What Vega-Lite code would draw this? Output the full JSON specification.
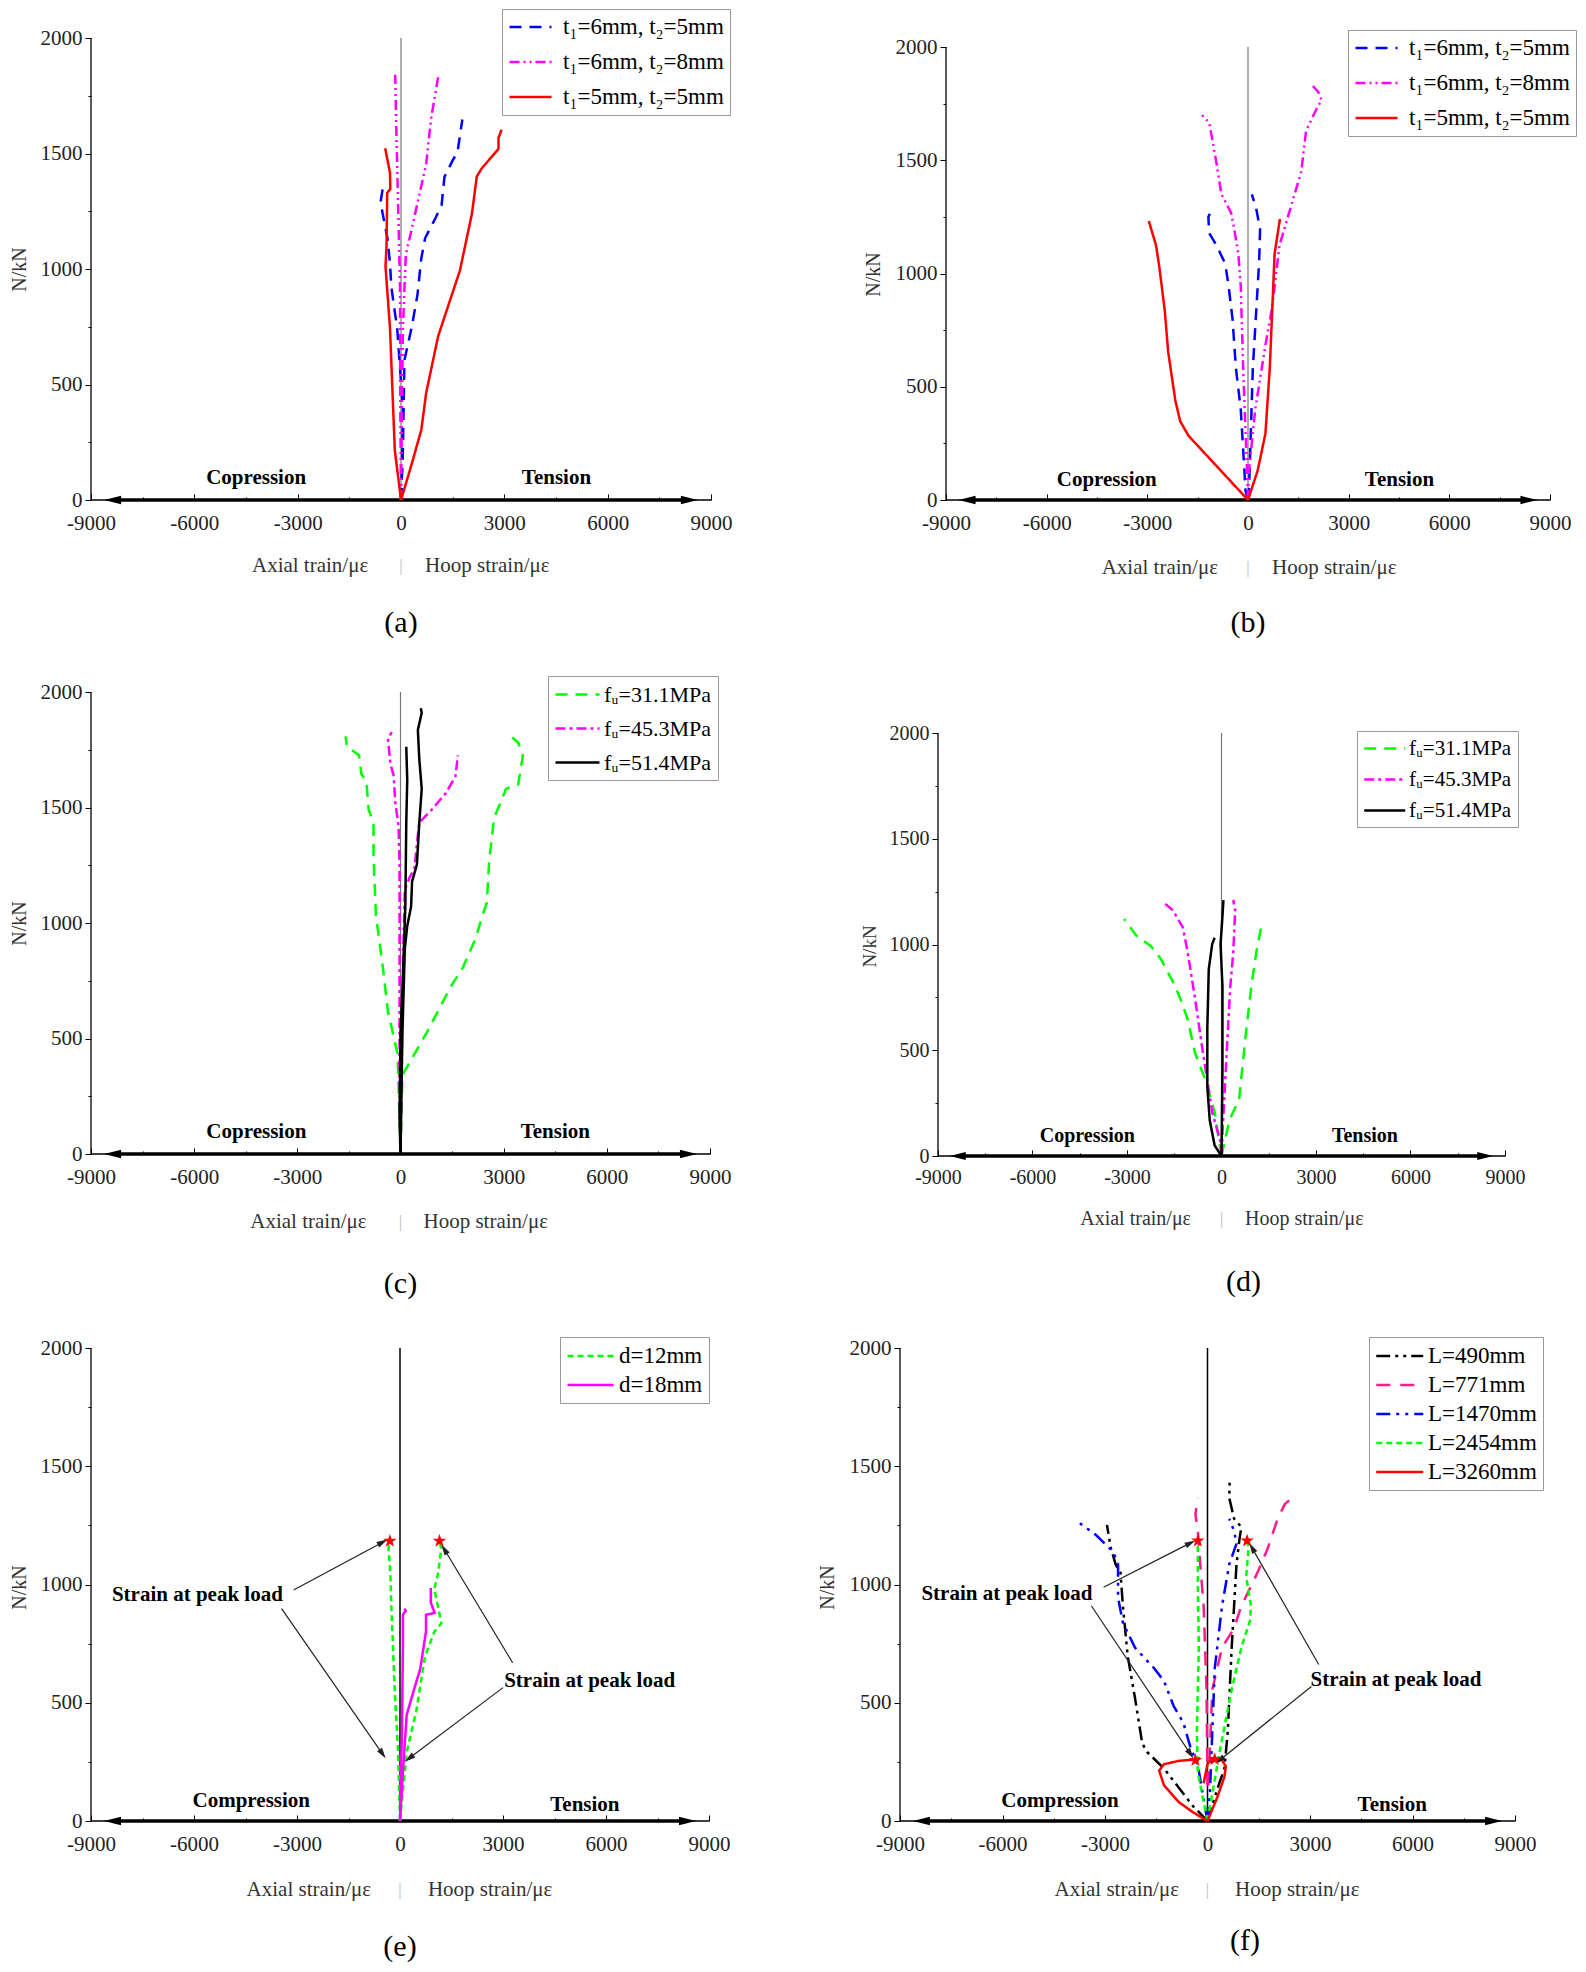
{
  "$schema": "https://vega.github.io/schema/vega-lite/v6.json",
  "background": "white",
  "padding": {"left": 9, "top": 8, "right": 0, "bottom": 0},
  "config": {
    "view": {"stroke": null},
    "font": "Liberation Serif",
    "axis": {"grid": false, "labelFont": "Liberation Serif", "labelFontSize": 21, "labelColor": "#222", "domainColor": "#000", "tickColor": "#000", "labelFlush": false, "labelOverlap": false, "titleFont": "Liberation Serif", "titleFontSize": 20, "titleFontWeight": "normal", "titleColor": "#333"},
    "legend": {"labelFont": "Liberation Serif", "labelColor": "#000", "labelLimit": 400, "title": null, "symbolType": "M-1,0L3,0", "symbolStrokeWidth": 2.5, "strokeColor": "#999", "fillColor": "#fff", "padding": 6}
  },
  "columns": 2,
  "bounds": "flush",
  "align": "each",
  "spacing": {"row": 192, "column": 189},
  "resolve": {"scale": {"x": "independent", "y": "independent", "color": "independent", "strokeDash": "independent"}},
  "concat": [
    {
      "width": 620, "height": 462,
      "data": {"values": [{}]},
      "layer": [
        {"mark": {"type": "rule", "color": "#000", "strokeWidth": 1.3},
         "encoding": {
           "x": {"datum": -9000, "type": "quantitative", "scale": {"domain": [-9000, 9000], "nice": false},
                 "axis": {"values": [-9000,-7500,-6000,-4500,-3000,-1500,0,1500,3000,4500,6000,7500,9000], "labelExpr": "datum.value % 3000 == 0 ? '' + datum.value : ''", "tickSize": {"condition": {"test": "datum.value % 3000 != 0", "value": -3}, "value": -6}, "labelPadding": 18, "domain": false, "title": null}},
           "y": {"datum": 0, "type": "quantitative", "scale": {"domain": [0, 2000], "nice": false},
                 "axis": {"values": [0,250,500,750,1000,1250,1500,1750,2000], "labelExpr": "datum.value % 500 == 0 ? '' + datum.value : ''", "tickSize": {"condition": {"test": "datum.value % 500 != 0", "value": 3}, "value": 6}, "labelPadding": 3, "domain": false, "title": "N/kN", "titleX": -72, "titleY": 231, "titleAngle": -90, "titleAlign": "center", "titleBaseline": "middle"}},
           "y2": {"datum": 2000}}},
        {"mark": {"type": "rule", "color": "#000", "strokeWidth": 1.3},
         "encoding": {"x": {"datum": -9000}, "x2": {"datum": 9000}, "y": {"datum": 0}}},
        {"mark": {"type": "rule", "color": "#777", "strokeWidth": 1.2},
         "encoding": {"x": {"datum": 0}, "y": {"datum": 0}, "y2": {"datum": 2000}}},
        {"mark": {"type": "rule", "color": "#000", "strokeWidth": 3.5},
         "encoding": {"x": {"datum": -8373}, "x2": {"datum": 8373}, "y": {"datum": 0}}},
        {"mark": {"type": "point", "shape": "M-1,0L1,-0.5L1,0.5Z", "filled": true, "size": 289, "color": "#000", "opacity": 1},
         "encoding": {"x": {"datum": -8373}, "y": {"datum": 0}}},
        {"mark": {"type": "point", "shape": "M1,0L-1,-0.5L-1,0.5Z", "filled": true, "size": 289, "color": "#000", "opacity": 1},
         "encoding": {"x": {"datum": 8373}, "y": {"datum": 0}}},
        {"data": {"values": [
          {"s": "t₁=6mm, t₂=5mm", "b": "H", "x": 0, "y": 0},
          {"s": "t₁=6mm, t₂=5mm", "b": "H", "x": 56, "y": 216},
          {"s": "t₁=6mm, t₂=5mm", "b": "H", "x": 98, "y": 604},
          {"s": "t₁=6mm, t₂=5mm", "b": "H", "x": 308, "y": 746},
          {"s": "t₁=6mm, t₂=5mm", "b": "H", "x": 477, "y": 887},
          {"s": "t₁=6mm, t₂=5mm", "b": "H", "x": 589, "y": 1046},
          {"s": "t₁=6mm, t₂=5mm", "b": "H", "x": 701, "y": 1134},
          {"s": "t₁=6mm, t₂=5mm", "b": "H", "x": 1009, "y": 1223},
          {"s": "t₁=6mm, t₂=5mm", "b": "H", "x": 1178, "y": 1276},
          {"s": "t₁=6mm, t₂=5mm", "b": "H", "x": 1262, "y": 1399},
          {"s": "t₁=6mm, t₂=5mm", "b": "H", "x": 1500, "y": 1470},
          {"s": "t₁=6mm, t₂=5mm", "b": "H", "x": 1640, "y": 1506},
          {"s": "t₁=6mm, t₂=5mm", "b": "H", "x": 1781, "y": 1647},
          {"s": "t₁=6mm, t₂=5mm", "b": "A", "x": 0, "y": 0},
          {"s": "t₁=6mm, t₂=5mm", "b": "A", "x": 28, "y": 127},
          {"s": "t₁=6mm, t₂=5mm", "b": "A", "x": 56, "y": 392},
          {"s": "t₁=6mm, t₂=5mm", "b": "A", "x": -28, "y": 569},
          {"s": "t₁=6mm, t₂=5mm", "b": "A", "x": -112, "y": 746},
          {"s": "t₁=6mm, t₂=5mm", "b": "A", "x": -182, "y": 816},
          {"s": "t₁=6mm, t₂=5mm", "b": "A", "x": -280, "y": 922},
          {"s": "t₁=6mm, t₂=5mm", "b": "A", "x": -322, "y": 1028},
          {"s": "t₁=6mm, t₂=5mm", "b": "A", "x": -393, "y": 1134},
          {"s": "t₁=6mm, t₂=5mm", "b": "A", "x": -463, "y": 1187},
          {"s": "t₁=6mm, t₂=5mm", "b": "A", "x": -533, "y": 1240},
          {"s": "t₁=6mm, t₂=5mm", "b": "A", "x": -589, "y": 1293},
          {"s": "t₁=6mm, t₂=5mm", "b": "A", "x": -533, "y": 1346},
          {"s": "t₁=6mm, t₂=5mm", "b": "A", "x": -575, "y": 1364},
          {"s": "t₁=6mm, t₂=8mm", "b": "H", "x": 0, "y": 0},
          {"s": "t₁=6mm, t₂=8mm", "b": "H", "x": 28, "y": 392},
          {"s": "t₁=6mm, t₂=8mm", "b": "H", "x": 56, "y": 746},
          {"s": "t₁=6mm, t₂=8mm", "b": "H", "x": 140, "y": 1064},
          {"s": "t₁=6mm, t₂=8mm", "b": "H", "x": 308, "y": 1170},
          {"s": "t₁=6mm, t₂=8mm", "b": "H", "x": 500, "y": 1300},
          {"s": "t₁=6mm, t₂=8mm", "b": "H", "x": 729, "y": 1452},
          {"s": "t₁=6mm, t₂=8mm", "b": "H", "x": 869, "y": 1647},
          {"s": "t₁=6mm, t₂=8mm", "b": "H", "x": 1080, "y": 1832},
          {"s": "t₁=6mm, t₂=8mm", "b": "A", "x": 0, "y": 0},
          {"s": "t₁=6mm, t₂=8mm", "b": "A", "x": -20, "y": 400},
          {"s": "t₁=6mm, t₂=8mm", "b": "A", "x": -28, "y": 922},
          {"s": "t₁=6mm, t₂=8mm", "b": "A", "x": -84, "y": 1276},
          {"s": "t₁=6mm, t₂=8mm", "b": "A", "x": -140, "y": 1629},
          {"s": "t₁=6mm, t₂=8mm", "b": "A", "x": -168, "y": 1841},
          {"s": "t₁=5mm, t₂=5mm", "b": "H", "x": 0, "y": 0},
          {"s": "t₁=5mm, t₂=5mm", "b": "H", "x": 300, "y": 150},
          {"s": "t₁=5mm, t₂=5mm", "b": "H", "x": 590, "y": 304},
          {"s": "t₁=5mm, t₂=5mm", "b": "H", "x": 730, "y": 463},
          {"s": "t₁=5mm, t₂=5mm", "b": "H", "x": 1080, "y": 710},
          {"s": "t₁=5mm, t₂=5mm", "b": "H", "x": 1710, "y": 993},
          {"s": "t₁=5mm, t₂=5mm", "b": "H", "x": 2060, "y": 1240},
          {"s": "t₁=5mm, t₂=5mm", "b": "H", "x": 2200, "y": 1400},
          {"s": "t₁=5mm, t₂=5mm", "b": "H", "x": 2340, "y": 1435},
          {"s": "t₁=5mm, t₂=5mm", "b": "H", "x": 2830, "y": 1520},
          {"s": "t₁=5mm, t₂=5mm", "b": "H", "x": 2830, "y": 1567},
          {"s": "t₁=5mm, t₂=5mm", "b": "H", "x": 2920, "y": 1603},
          {"s": "t₁=5mm, t₂=5mm", "b": "A", "x": 0, "y": 0},
          {"s": "t₁=5mm, t₂=5mm", "b": "A", "x": -180, "y": 216},
          {"s": "t₁=5mm, t₂=5mm", "b": "A", "x": -320, "y": 746},
          {"s": "t₁=5mm, t₂=5mm", "b": "A", "x": -450, "y": 1011},
          {"s": "t₁=5mm, t₂=5mm", "b": "A", "x": -420, "y": 1100},
          {"s": "t₁=5mm, t₂=5mm", "b": "A", "x": -400, "y": 1330},
          {"s": "t₁=5mm, t₂=5mm", "b": "A", "x": -310, "y": 1346},
          {"s": "t₁=5mm, t₂=5mm", "b": "A", "x": -320, "y": 1417},
          {"s": "t₁=5mm, t₂=5mm", "b": "A", "x": -460, "y": 1523}
         ]},
         "mark": {"type": "line", "strokeWidth": 2.5},
         "encoding": {
           "x": {"field": "x", "type": "quantitative"},
           "y": {"field": "y", "type": "quantitative"},
           "color": {"field": "s", "type": "nominal", "scale": {"domain": ["t₁=6mm, t₂=5mm", "t₁=6mm, t₂=8mm", "t₁=5mm, t₂=5mm"], "range": ["#0000ff", "#ff00ff", "#ff0000"]},
                     "legend": {"orient": "none", "legendX": 411, "legendY": -29, "symbolSize": 441, "labelOffset": 31, "rowPadding": 11, "labelFontSize": 23}},
           "strokeDash": {"field": "s", "type": "nominal", "scale": {"domain": ["t₁=6mm, t₂=5mm", "t₁=6mm, t₂=8mm", "t₁=5mm, t₂=5mm"], "range": [[12, 8], [10, 4, 2, 4, 2, 4], [1, 0]]},
                     "legend": {"orient": "none", "legendX": 411, "legendY": -29, "symbolSize": 441, "labelOffset": 31, "rowPadding": 11, "labelFontSize": 23}},
           "detail": {"field": "b"},
           "order": {"value": null}}},
        {"data": {"values": [{"t": "Copression", "x": -4206, "y": 95}, {"t": "Tension", "x": 4514, "y": 95}]},
         "mark": {"type": "text", "fontWeight": "bold", "fontSize": 21, "color": "#000", "baseline": "middle"},
         "encoding": {"x": {"field": "x", "type": "quantitative"}, "y": {"field": "y", "type": "quantitative"}, "text": {"field": "t"}}},
        {"mark": {"type": "text", "align": "right", "baseline": "middle", "dy": 66, "fontSize": 21, "color": "#333"},
         "encoding": {"x": {"datum": -950}, "y": {"datum": 0}, "text": {"value": "Axial train/με"}}},
        {"mark": {"type": "text", "baseline": "middle", "dy": 66, "fontSize": 17, "color": "#bbb"},
         "encoding": {"x": {"datum": 0}, "y": {"datum": 0}, "text": {"value": "|"}}},
        {"mark": {"type": "text", "align": "left", "baseline": "middle", "dy": 66, "fontSize": 21, "color": "#333"},
         "encoding": {"x": {"datum": 700}, "y": {"datum": 0}, "text": {"value": "Hoop strain/με"}}},
        {"mark": {"type": "text", "baseline": "middle", "dy": 123, "fontSize": 30, "color": "#000"},
         "encoding": {"x": {"datum": 0}, "y": {"datum": 0}, "text": {"value": "(a)"}}}
      ]
    },
    {
      "width": 650, "height": 462,
      "data": {"values": [{}]},
      "layer": [
        {"mark": {"type": "rule", "color": "#000", "strokeWidth": 1.3},
         "encoding": {
           "x": {"datum": -9000, "type": "quantitative", "scale": {"domain": [-10371, 9000], "nice": false},
                 "axis": {"values": [-9000,-7500,-6000,-4500,-3000,-1500,0,1500,3000,4500,6000,7500,9000], "labelExpr": "datum.value % 3000 == 0 ? '' + datum.value : ''", "tickSize": {"condition": {"test": "datum.value % 3000 != 0", "value": -3}, "value": -6}, "labelPadding": 18, "domain": false, "title": null}},
           "y": {"datum": 0, "type": "quantitative", "scale": {"domain": [0, 2040], "nice": false},
                 "axis": {"offset": -46, "values": [0,250,500,750,1000,1250,1500,1750,2000], "labelExpr": "datum.value % 500 == 0 ? '' + datum.value : ''", "tickSize": {"condition": {"test": "datum.value % 500 != 0", "value": 3}, "value": 6}, "labelPadding": 3, "domain": false, "title": "N/kN", "titleX": -73, "titleY": 236, "titleAngle": -90, "titleAlign": "center", "titleBaseline": "middle"}},
           "y2": {"datum": 2000}}},
        {"mark": {"type": "rule", "color": "#000", "strokeWidth": 1.3},
         "encoding": {"x": {"datum": -9000}, "x2": {"datum": 9000}, "y": {"datum": 0}}},
        {"mark": {"type": "rule", "color": "#777", "strokeWidth": 1.2},
         "encoding": {"x": {"datum": 0}, "y": {"datum": 0}, "y2": {"datum": 2000}}},
        {"mark": {"type": "rule", "color": "#000", "strokeWidth": 3.5},
         "encoding": {"x": {"datum": -8373}, "x2": {"datum": 8373}, "y": {"datum": 0}}},
        {"mark": {"type": "point", "shape": "M-1,0L1,-0.5L1,0.5Z", "filled": true, "size": 289, "color": "#000", "opacity": 1},
         "encoding": {"x": {"datum": -8373}, "y": {"datum": 0}}},
        {"mark": {"type": "point", "shape": "M1,0L-1,-0.5L-1,0.5Z", "filled": true, "size": 289, "color": "#000", "opacity": 1},
         "encoding": {"x": {"datum": 8373}, "y": {"datum": 0}}},
        {"data": {"values": [
          {"s": "t₁=6mm, t₂=5mm", "b": "A", "x": 0, "y": 0},
          {"s": "t₁=6mm, t₂=5mm", "b": "A", "x": -72, "y": 40},
          {"s": "t₁=6mm, t₂=5mm", "b": "A", "x": -216, "y": 401},
          {"s": "t₁=6mm, t₂=5mm", "b": "A", "x": -360, "y": 582},
          {"s": "t₁=6mm, t₂=5mm", "b": "A", "x": -461, "y": 799},
          {"s": "t₁=6mm, t₂=5mm", "b": "A", "x": -577, "y": 943},
          {"s": "t₁=6mm, t₂=5mm", "b": "A", "x": -678, "y": 1043},
          {"s": "t₁=6mm, t₂=5mm", "b": "A", "x": -937, "y": 1124},
          {"s": "t₁=6mm, t₂=5mm", "b": "A", "x": -1154, "y": 1178},
          {"s": "t₁=6mm, t₂=5mm", "b": "A", "x": -1182, "y": 1250},
          {"s": "t₁=6mm, t₂=5mm", "b": "A", "x": -1038, "y": 1296},
          {"s": "t₁=6mm, t₂=5mm", "b": "H", "x": 0, "y": 0},
          {"s": "t₁=6mm, t₂=5mm", "b": "H", "x": 29, "y": 40},
          {"s": "t₁=6mm, t₂=5mm", "b": "H", "x": 144, "y": 582},
          {"s": "t₁=6mm, t₂=5mm", "b": "H", "x": 245, "y": 835},
          {"s": "t₁=6mm, t₂=5mm", "b": "H", "x": 332, "y": 1052},
          {"s": "t₁=6mm, t₂=5mm", "b": "H", "x": 360, "y": 1196},
          {"s": "t₁=6mm, t₂=5mm", "b": "H", "x": 245, "y": 1287},
          {"s": "t₁=6mm, t₂=5mm", "b": "H", "x": 115, "y": 1350},
          {"s": "t₁=6mm, t₂=8mm", "b": "A", "x": 0, "y": 0},
          {"s": "t₁=6mm, t₂=8mm", "b": "A", "x": -29, "y": 130},
          {"s": "t₁=6mm, t₂=8mm", "b": "A", "x": -144, "y": 582},
          {"s": "t₁=6mm, t₂=8mm", "b": "A", "x": -216, "y": 943},
          {"s": "t₁=6mm, t₂=8mm", "b": "A", "x": -288, "y": 1088},
          {"s": "t₁=6mm, t₂=8mm", "b": "A", "x": -432, "y": 1214},
          {"s": "t₁=6mm, t₂=8mm", "b": "A", "x": -505, "y": 1269},
          {"s": "t₁=6mm, t₂=8mm", "b": "A", "x": -793, "y": 1350},
          {"s": "t₁=6mm, t₂=8mm", "b": "A", "x": -937, "y": 1485},
          {"s": "t₁=6mm, t₂=8mm", "b": "A", "x": -1154, "y": 1666},
          {"s": "t₁=6mm, t₂=8mm", "b": "A", "x": -1370, "y": 1699},
          {"s": "t₁=6mm, t₂=8mm", "b": "H", "x": 0, "y": 0},
          {"s": "t₁=6mm, t₂=8mm", "b": "H", "x": 29, "y": 130},
          {"s": "t₁=6mm, t₂=8mm", "b": "H", "x": 216, "y": 401},
          {"s": "t₁=6mm, t₂=8mm", "b": "H", "x": 505, "y": 672},
          {"s": "t₁=6mm, t₂=8mm", "b": "H", "x": 721, "y": 853},
          {"s": "t₁=6mm, t₂=8mm", "b": "H", "x": 937, "y": 1124},
          {"s": "t₁=6mm, t₂=8mm", "b": "H", "x": 1370, "y": 1341},
          {"s": "t₁=6mm, t₂=8mm", "b": "H", "x": 1586, "y": 1449},
          {"s": "t₁=6mm, t₂=8mm", "b": "H", "x": 1730, "y": 1630},
          {"s": "t₁=6mm, t₂=8mm", "b": "H", "x": 2019, "y": 1720},
          {"s": "t₁=6mm, t₂=8mm", "b": "H", "x": 2192, "y": 1766},
          {"s": "t₁=6mm, t₂=8mm", "b": "H", "x": 2091, "y": 1802},
          {"s": "t₁=6mm, t₂=8mm", "b": "H", "x": 1875, "y": 1838},
          {"s": "t₁=5mm, t₂=5mm", "b": "A", "x": 0, "y": 0},
          {"s": "t₁=5mm, t₂=5mm", "b": "A", "x": -1774, "y": 284},
          {"s": "t₁=5mm, t₂=5mm", "b": "A", "x": -2019, "y": 347},
          {"s": "t₁=5mm, t₂=5mm", "b": "A", "x": -2163, "y": 437},
          {"s": "t₁=5mm, t₂=5mm", "b": "A", "x": -2379, "y": 654},
          {"s": "t₁=5mm, t₂=5mm", "b": "A", "x": -2480, "y": 835},
          {"s": "t₁=5mm, t₂=5mm", "b": "A", "x": -2639, "y": 1025},
          {"s": "t₁=5mm, t₂=5mm", "b": "A", "x": -2740, "y": 1124},
          {"s": "t₁=5mm, t₂=5mm", "b": "A", "x": -2956, "y": 1232},
          {"s": "t₁=5mm, t₂=5mm", "b": "H", "x": 0, "y": 0},
          {"s": "t₁=5mm, t₂=5mm", "b": "H", "x": 288, "y": 130},
          {"s": "t₁=5mm, t₂=5mm", "b": "H", "x": 519, "y": 293},
          {"s": "t₁=5mm, t₂=5mm", "b": "H", "x": 649, "y": 582},
          {"s": "t₁=5mm, t₂=5mm", "b": "H", "x": 721, "y": 835},
          {"s": "t₁=5mm, t₂=5mm", "b": "H", "x": 793, "y": 1088},
          {"s": "t₁=5mm, t₂=5mm", "b": "H", "x": 952, "y": 1241}
         ]},
         "mark": {"type": "line", "strokeWidth": 2.5},
         "encoding": {
           "x": {"field": "x", "type": "quantitative"},
           "y": {"field": "y", "type": "quantitative"},
           "color": {"field": "s", "type": "nominal", "scale": {"domain": ["t₁=6mm, t₂=5mm", "t₁=6mm, t₂=8mm", "t₁=5mm, t₂=5mm"], "range": ["#0000ff", "#ff00ff", "#ff0000"]},
                     "legend": {"orient": "none", "legendX": 448, "legendY": -8, "symbolSize": 441, "labelOffset": 31, "rowPadding": 11, "labelFontSize": 23}},
           "strokeDash": {"field": "s", "type": "nominal", "scale": {"domain": ["t₁=6mm, t₂=5mm", "t₁=6mm, t₂=8mm", "t₁=5mm, t₂=5mm"], "range": [[12, 8], [10, 4, 2, 4, 2, 4], [1, 0]]},
                     "legend": {"orient": "none", "legendX": 448, "legendY": -8, "symbolSize": 441, "labelOffset": 31, "rowPadding": 11, "labelFontSize": 23}},
           "detail": {"field": "b"},
           "order": {"value": null}}},
        {"data": {"values": [{"t": "Copression", "x": -4211, "y": 90}, {"t": "Tension", "x": 4513, "y": 90}]},
         "mark": {"type": "text", "fontWeight": "bold", "fontSize": 21, "color": "#000", "baseline": "middle"},
         "encoding": {"x": {"field": "x", "type": "quantitative"}, "y": {"field": "y", "type": "quantitative"}, "text": {"field": "t"}}},
        {"mark": {"type": "text", "align": "right", "baseline": "middle", "dy": 68, "fontSize": 21, "color": "#333"},
         "encoding": {"x": {"datum": -894}, "y": {"datum": 0}, "text": {"value": "Axial train/με"}}},
        {"mark": {"type": "text", "baseline": "middle", "dy": 68, "fontSize": 17, "color": "#bbb"},
         "encoding": {"x": {"datum": 0}, "y": {"datum": 0}, "text": {"value": "|"}}},
        {"mark": {"type": "text", "align": "left", "baseline": "middle", "dy": 68, "fontSize": 21, "color": "#333"},
         "encoding": {"x": {"datum": 715}, "y": {"datum": 0}, "text": {"value": "Hoop strain/με"}}},
        {"mark": {"type": "text", "baseline": "middle", "dy": 123, "fontSize": 30, "color": "#000"},
         "encoding": {"x": {"datum": 0}, "y": {"datum": 0}, "text": {"value": "(b)"}}}
      ]
    },
    {
      "width": 619, "height": 462,
      "data": {"values": [{}]},
      "layer": [
        {"mark": {"type": "rule", "color": "#000", "strokeWidth": 1.3},
         "encoding": {
           "x": {"datum": -9000, "type": "quantitative", "scale": {"domain": [-9000, 9000], "nice": false},
                 "axis": {"values": [-9000,-7500,-6000,-4500,-3000,-1500,0,1500,3000,4500,6000,7500,9000], "labelExpr": "datum.value % 3000 == 0 ? '' + datum.value : ''", "tickSize": {"condition": {"test": "datum.value % 3000 != 0", "value": -3}, "value": -6}, "labelPadding": 18, "domain": false, "title": null}},
           "y": {"datum": 0, "type": "quantitative", "scale": {"domain": [0, 2000], "nice": false},
                 "axis": {"values": [0,250,500,750,1000,1250,1500,1750,2000], "labelExpr": "datum.value % 500 == 0 ? '' + datum.value : ''", "tickSize": {"condition": {"test": "datum.value % 500 != 0", "value": 3}, "value": 6}, "labelPadding": 3, "domain": false, "title": "N/kN", "titleX": -72, "titleY": 231, "titleAngle": -90, "titleAlign": "center", "titleBaseline": "middle"}},
           "y2": {"datum": 2000}}},
        {"mark": {"type": "rule", "color": "#000", "strokeWidth": 1.3},
         "encoding": {"x": {"datum": -9000}, "x2": {"datum": 9000}, "y": {"datum": 0}}},
        {"mark": {"type": "rule", "color": "#777", "strokeWidth": 1.2},
         "encoding": {"x": {"datum": 0}, "y": {"datum": 0}, "y2": {"datum": 2000}}},
        {"mark": {"type": "rule", "color": "#000", "strokeWidth": 3.5},
         "encoding": {"x": {"datum": -8373}, "x2": {"datum": 8373}, "y": {"datum": 0}}},
        {"mark": {"type": "point", "shape": "M-1,0L1,-0.5L1,0.5Z", "filled": true, "size": 289, "color": "#000", "opacity": 1},
         "encoding": {"x": {"datum": -8373}, "y": {"datum": 0}}},
        {"mark": {"type": "point", "shape": "M1,0L-1,-0.5L-1,0.5Z", "filled": true, "size": 289, "color": "#000", "opacity": 1},
         "encoding": {"x": {"datum": 8373}, "y": {"datum": 0}}},
        {"data": {"values": [
          {"s": "fᵤ=31.1MPa", "b": "H", "x": 0, "y": 0},
          {"s": "fᵤ=31.1MPa", "b": "H", "x": 56, "y": 342},
          {"s": "fᵤ=31.1MPa", "b": "H", "x": 337, "y": 415},
          {"s": "fᵤ=31.1MPa", "b": "H", "x": 757, "y": 524},
          {"s": "fᵤ=31.1MPa", "b": "H", "x": 1458, "y": 724},
          {"s": "fᵤ=31.1MPa", "b": "H", "x": 1809, "y": 806},
          {"s": "fᵤ=31.1MPa", "b": "H", "x": 2159, "y": 925},
          {"s": "fᵤ=31.1MPa", "b": "H", "x": 2510, "y": 1089},
          {"s": "fᵤ=31.1MPa", "b": "H", "x": 2580, "y": 1271},
          {"s": "fᵤ=31.1MPa", "b": "H", "x": 2720, "y": 1453},
          {"s": "fᵤ=31.1MPa", "b": "H", "x": 3071, "y": 1581},
          {"s": "fᵤ=31.1MPa", "b": "H", "x": 3421, "y": 1599},
          {"s": "fᵤ=31.1MPa", "b": "H", "x": 3561, "y": 1726},
          {"s": "fᵤ=31.1MPa", "b": "H", "x": 3421, "y": 1781},
          {"s": "fᵤ=31.1MPa", "b": "H", "x": 3210, "y": 1808},
          {"s": "fᵤ=31.1MPa", "b": "A", "x": 0, "y": 0},
          {"s": "fᵤ=31.1MPa", "b": "A", "x": -84, "y": 433},
          {"s": "fᵤ=31.1MPa", "b": "A", "x": -365, "y": 616},
          {"s": "fᵤ=31.1MPa", "b": "A", "x": -505, "y": 798},
          {"s": "fᵤ=31.1MPa", "b": "A", "x": -715, "y": 1034},
          {"s": "fᵤ=31.1MPa", "b": "A", "x": -785, "y": 1289},
          {"s": "fᵤ=31.1MPa", "b": "A", "x": -785, "y": 1435},
          {"s": "fᵤ=31.1MPa", "b": "A", "x": -925, "y": 1489},
          {"s": "fᵤ=31.1MPa", "b": "A", "x": -995, "y": 1617},
          {"s": "fᵤ=31.1MPa", "b": "A", "x": -1136, "y": 1644},
          {"s": "fᵤ=31.1MPa", "b": "A", "x": -1206, "y": 1726},
          {"s": "fᵤ=31.1MPa", "b": "A", "x": -1556, "y": 1763},
          {"s": "fᵤ=31.1MPa", "b": "A", "x": -1598, "y": 1808},
          {"s": "fᵤ=45.3MPa", "b": "H", "x": 0, "y": 0},
          {"s": "fᵤ=45.3MPa", "b": "H", "x": 28, "y": 342},
          {"s": "fᵤ=45.3MPa", "b": "H", "x": 84, "y": 889},
          {"s": "fᵤ=45.3MPa", "b": "H", "x": 126, "y": 1144},
          {"s": "fᵤ=45.3MPa", "b": "H", "x": 266, "y": 1198},
          {"s": "fᵤ=45.3MPa", "b": "H", "x": 407, "y": 1235},
          {"s": "fᵤ=45.3MPa", "b": "H", "x": 477, "y": 1344},
          {"s": "fᵤ=45.3MPa", "b": "H", "x": 547, "y": 1435},
          {"s": "fᵤ=45.3MPa", "b": "H", "x": 898, "y": 1489},
          {"s": "fᵤ=45.3MPa", "b": "H", "x": 1318, "y": 1562},
          {"s": "fᵤ=45.3MPa", "b": "H", "x": 1598, "y": 1635},
          {"s": "fᵤ=45.3MPa", "b": "H", "x": 1668, "y": 1726},
          {"s": "fᵤ=45.3MPa", "b": "A", "x": 0, "y": 0},
          {"s": "fᵤ=45.3MPa", "b": "A", "x": -28, "y": 342},
          {"s": "fᵤ=45.3MPa", "b": "A", "x": -28, "y": 1253},
          {"s": "fᵤ=45.3MPa", "b": "A", "x": -56, "y": 1417},
          {"s": "fᵤ=45.3MPa", "b": "A", "x": -154, "y": 1526},
          {"s": "fᵤ=45.3MPa", "b": "A", "x": -196, "y": 1635},
          {"s": "fᵤ=45.3MPa", "b": "A", "x": -294, "y": 1690},
          {"s": "fᵤ=45.3MPa", "b": "A", "x": -365, "y": 1799},
          {"s": "fᵤ=45.3MPa", "b": "A", "x": -252, "y": 1826},
          {"s": "fᵤ=51.4MPa", "b": "H", "x": 0, "y": 0},
          {"s": "fᵤ=51.4MPa", "b": "H", "x": 56, "y": 524},
          {"s": "fᵤ=51.4MPa", "b": "H", "x": 126, "y": 889},
          {"s": "fᵤ=51.4MPa", "b": "H", "x": 196, "y": 987},
          {"s": "fᵤ=51.4MPa", "b": "H", "x": 308, "y": 1071},
          {"s": "fᵤ=51.4MPa", "b": "H", "x": 337, "y": 1180},
          {"s": "fᵤ=51.4MPa", "b": "H", "x": 477, "y": 1253},
          {"s": "fᵤ=51.4MPa", "b": "H", "x": 547, "y": 1435},
          {"s": "fᵤ=51.4MPa", "b": "H", "x": 617, "y": 1581},
          {"s": "fᵤ=51.4MPa", "b": "H", "x": 547, "y": 1708},
          {"s": "fᵤ=51.4MPa", "b": "H", "x": 505, "y": 1836},
          {"s": "fᵤ=51.4MPa", "b": "H", "x": 617, "y": 1909},
          {"s": "fᵤ=51.4MPa", "b": "H", "x": 589, "y": 1930},
          {"s": "fᵤ=51.4MPa", "b": "A", "x": 0, "y": 0},
          {"s": "fᵤ=51.4MPa", "b": "A", "x": -28, "y": 160},
          {"s": "fᵤ=51.4MPa", "b": "A", "x": 0, "y": 524},
          {"s": "fᵤ=51.4MPa", "b": "A", "x": 56, "y": 707},
          {"s": "fᵤ=51.4MPa", "b": "A", "x": 140, "y": 1071},
          {"s": "fᵤ=51.4MPa", "b": "A", "x": 168, "y": 1435},
          {"s": "fᵤ=51.4MPa", "b": "A", "x": 196, "y": 1617},
          {"s": "fᵤ=51.4MPa", "b": "A", "x": 168, "y": 1763}
         ]},
         "mark": {"type": "line", "strokeWidth": 2.5},
         "encoding": {
           "x": {"field": "x", "type": "quantitative"},
           "y": {"field": "y", "type": "quantitative"},
           "color": {"field": "s", "type": "nominal", "scale": {"domain": ["fᵤ=31.1MPa", "fᵤ=45.3MPa", "fᵤ=51.4MPa"], "range": ["#00ff00", "#ff00ff", "#000000"]},
                     "legend": {"orient": "none", "legendX": 457, "legendY": -16, "symbolSize": 484, "labelOffset": 25, "rowPadding": 10, "labelFontSize": 22}},
           "strokeDash": {"field": "s", "type": "nominal", "scale": {"domain": ["fᵤ=31.1MPa", "fᵤ=45.3MPa", "fᵤ=51.4MPa"], "range": [[12, 8], [10, 4, 3, 4], [1, 0]]},
                     "legend": {"orient": "none", "legendX": 457, "legendY": -16, "symbolSize": 484, "labelOffset": 25, "rowPadding": 10, "labelFontSize": 22}},
           "detail": {"field": "b"},
           "order": {"value": null}}},
        {"data": {"values": [{"t": "Copression", "x": -4192, "y": 97}, {"t": "Tension", "x": 4500, "y": 97}]},
         "mark": {"type": "text", "fontWeight": "bold", "fontSize": 21, "color": "#000", "baseline": "middle"},
         "encoding": {"x": {"field": "x", "type": "quantitative"}, "y": {"field": "y", "type": "quantitative"}, "text": {"field": "t"}}},
        {"mark": {"type": "text", "align": "right", "baseline": "middle", "dy": 68, "fontSize": 21, "color": "#333"},
         "encoding": {"x": {"datum": -986}, "y": {"datum": 0}, "text": {"value": "Axial train/με"}}},
        {"mark": {"type": "text", "baseline": "middle", "dy": 68, "fontSize": 17, "color": "#bbb"},
         "encoding": {"x": {"datum": 0}, "y": {"datum": 0}, "text": {"value": "|"}}},
        {"mark": {"type": "text", "align": "left", "baseline": "middle", "dy": 68, "fontSize": 21, "color": "#333"},
         "encoding": {"x": {"datum": 668}, "y": {"datum": 0}, "text": {"value": "Hoop strain/με"}}},
        {"mark": {"type": "text", "baseline": "middle", "dy": 130, "fontSize": 30, "color": "#000"},
         "encoding": {"x": {"datum": 0}, "y": {"datum": 0}, "text": {"value": "(c)"}}}
      ]
    },
    {
      "width": 605, "height": 464,
      "data": {"values": [{}]},
      "layer": [
        {"mark": {"type": "rule", "color": "#000", "strokeWidth": 1.3},
         "encoding": {
           "x": {"datum": -9000, "type": "quantitative", "scale": {"domain": [-10206, 9000], "nice": false},
                 "axis": {"values": [-9000,-7500,-6000,-4500,-3000,-1500,0,1500,3000,4500,6000,7500,9000], "labelExpr": "datum.value % 3000 == 0 ? '' + datum.value : ''", "tickSize": {"condition": {"test": "datum.value % 3000 != 0", "value": -3}, "value": -6}, "labelPadding": 17, "labelFontSize": 20, "domain": false, "title": null}},
           "y": {"datum": 0, "type": "quantitative", "scale": {"domain": [0, 2194], "nice": false},
                 "axis": {"offset": -38, "values": [0,250,500,750,1000,1250,1500,1750,2000], "labelExpr": "datum.value % 500 == 0 ? '' + datum.value : ''", "tickSize": {"condition": {"test": "datum.value % 500 != 0", "value": 3}, "value": 6}, "labelPadding": 3, "labelFontSize": 20, "domain": false, "title": "N/kN", "titleX": -69, "titleY": 254, "titleAngle": -90, "titleAlign": "center", "titleBaseline": "middle", "titleFontSize": 19}},
           "y2": {"datum": 2000}}},
        {"mark": {"type": "rule", "color": "#000", "strokeWidth": 1.3},
         "encoding": {"x": {"datum": -9000}, "x2": {"datum": 9000}, "y": {"datum": 0}}},
        {"mark": {"type": "rule", "color": "#777", "strokeWidth": 1.2},
         "encoding": {"x": {"datum": 0}, "y": {"datum": 0}, "y2": {"datum": 2000}}},
        {"mark": {"type": "rule", "color": "#000", "strokeWidth": 3.5},
         "encoding": {"x": {"datum": -8373}, "x2": {"datum": 8373}, "y": {"datum": 0}}},
        {"mark": {"type": "point", "shape": "M-1,0L1,-0.5L1,0.5Z", "filled": true, "size": 256, "color": "#000", "opacity": 1},
         "encoding": {"x": {"datum": -8373}, "y": {"datum": 0}}},
        {"mark": {"type": "point", "shape": "M1,0L-1,-0.5L-1,0.5Z", "filled": true, "size": 256, "color": "#000", "opacity": 1},
         "encoding": {"x": {"datum": 8373}, "y": {"datum": 0}}},
        {"data": {"values": [
          {"s": "fᵤ=31.1MPa", "b": "A", "x": 0, "y": 0},
          {"s": "fᵤ=31.1MPa", "b": "A", "x": -218, "y": 208},
          {"s": "fᵤ=31.1MPa", "b": "A", "x": -528, "y": 367},
          {"s": "fᵤ=31.1MPa", "b": "A", "x": -839, "y": 486},
          {"s": "fᵤ=31.1MPa", "b": "A", "x": -1072, "y": 645},
          {"s": "fᵤ=31.1MPa", "b": "A", "x": -1305, "y": 744},
          {"s": "fᵤ=31.1MPa", "b": "A", "x": -1539, "y": 823},
          {"s": "fᵤ=31.1MPa", "b": "A", "x": -1927, "y": 932},
          {"s": "fᵤ=31.1MPa", "b": "A", "x": -2238, "y": 992},
          {"s": "fᵤ=31.1MPa", "b": "A", "x": -2704, "y": 1042},
          {"s": "fᵤ=31.1MPa", "b": "A", "x": -3092, "y": 1121},
          {"s": "fᵤ=31.1MPa", "b": "H", "x": 0, "y": 0},
          {"s": "fᵤ=31.1MPa", "b": "H", "x": 249, "y": 169},
          {"s": "fᵤ=31.1MPa", "b": "H", "x": 559, "y": 268},
          {"s": "fᵤ=31.1MPa", "b": "H", "x": 793, "y": 605},
          {"s": "fᵤ=31.1MPa", "b": "H", "x": 948, "y": 803},
          {"s": "fᵤ=31.1MPa", "b": "H", "x": 1103, "y": 962},
          {"s": "fᵤ=31.1MPa", "b": "H", "x": 1259, "y": 1081},
          {"s": "fᵤ=45.3MPa", "b": "A", "x": 0, "y": 0},
          {"s": "fᵤ=45.3MPa", "b": "A", "x": 0, "y": 50},
          {"s": "fᵤ=45.3MPa", "b": "A", "x": -295, "y": 208},
          {"s": "fᵤ=45.3MPa", "b": "A", "x": -606, "y": 506},
          {"s": "fᵤ=45.3MPa", "b": "A", "x": -839, "y": 744},
          {"s": "fᵤ=45.3MPa", "b": "A", "x": -1072, "y": 962},
          {"s": "fᵤ=45.3MPa", "b": "A", "x": -1227, "y": 1081},
          {"s": "fᵤ=45.3MPa", "b": "A", "x": -1539, "y": 1161},
          {"s": "fᵤ=45.3MPa", "b": "A", "x": -1849, "y": 1200},
          {"s": "fᵤ=45.3MPa", "b": "H", "x": 0, "y": 0},
          {"s": "fᵤ=45.3MPa", "b": "H", "x": 31, "y": 109},
          {"s": "fᵤ=45.3MPa", "b": "H", "x": 171, "y": 506},
          {"s": "fᵤ=45.3MPa", "b": "H", "x": 280, "y": 803},
          {"s": "fᵤ=45.3MPa", "b": "H", "x": 373, "y": 962},
          {"s": "fᵤ=45.3MPa", "b": "H", "x": 435, "y": 1161},
          {"s": "fᵤ=45.3MPa", "b": "H", "x": 373, "y": 1210},
          {"s": "fᵤ=51.4MPa", "b": "A", "x": 0, "y": 0},
          {"s": "fᵤ=51.4MPa", "b": "A", "x": -218, "y": 50},
          {"s": "fᵤ=51.4MPa", "b": "A", "x": -373, "y": 169},
          {"s": "fᵤ=51.4MPa", "b": "A", "x": -450, "y": 327},
          {"s": "fᵤ=51.4MPa", "b": "A", "x": -450, "y": 605},
          {"s": "fᵤ=51.4MPa", "b": "A", "x": -404, "y": 883},
          {"s": "fᵤ=51.4MPa", "b": "A", "x": -295, "y": 1002},
          {"s": "fᵤ=51.4MPa", "b": "A", "x": -218, "y": 1032},
          {"s": "fᵤ=51.4MPa", "b": "H", "x": 0, "y": 0},
          {"s": "fᵤ=51.4MPa", "b": "H", "x": 31, "y": 407},
          {"s": "fᵤ=51.4MPa", "b": "H", "x": 31, "y": 803},
          {"s": "fᵤ=51.4MPa", "b": "H", "x": -31, "y": 1002},
          {"s": "fᵤ=51.4MPa", "b": "H", "x": 16, "y": 1101},
          {"s": "fᵤ=51.4MPa", "b": "H", "x": 62, "y": 1210}
         ]},
         "mark": {"type": "line", "strokeWidth": 2.5},
         "encoding": {
           "x": {"field": "x", "type": "quantitative"},
           "y": {"field": "y", "type": "quantitative"},
           "color": {"field": "s", "type": "nominal", "scale": {"domain": ["fᵤ=31.1MPa", "fᵤ=45.3MPa", "fᵤ=51.4MPa"], "range": ["#00ff00", "#ff00ff", "#000000"]},
                     "legend": {"orient": "none", "legendX": 457, "legendY": 39, "symbolSize": 420, "labelOffset": 23, "rowPadding": 9, "labelFontSize": 21}},
           "strokeDash": {"field": "s", "type": "nominal", "scale": {"domain": ["fᵤ=31.1MPa", "fᵤ=45.3MPa", "fᵤ=51.4MPa"], "range": [[12, 8], [10, 4, 3, 4], [1, 0]]},
                     "legend": {"orient": "none", "legendX": 457, "legendY": 39, "symbolSize": 420, "labelOffset": 23, "rowPadding": 9, "labelFontSize": 21}},
           "detail": {"field": "b"},
           "order": {"value": null}}},
        {"data": {"values": [{"t": "Copression", "x": -4258, "y": 95}, {"t": "Tension", "x": 4553, "y": 95}]},
         "mark": {"type": "text", "fontWeight": "bold", "fontSize": 20, "color": "#000", "baseline": "middle"},
         "encoding": {"x": {"field": "x", "type": "quantitative"}, "y": {"field": "y", "type": "quantitative"}, "text": {"field": "t"}}},
        {"mark": {"type": "text", "align": "right", "baseline": "middle", "dy": 63, "fontSize": 20, "color": "#333"},
         "encoding": {"x": {"datum": -968}, "y": {"datum": 0}, "text": {"value": "Axial train/με"}}},
        {"mark": {"type": "text", "baseline": "middle", "dy": 63, "fontSize": 16, "color": "#bbb"},
         "encoding": {"x": {"datum": 0}, "y": {"datum": 0}, "text": {"value": "|"}}},
        {"mark": {"type": "text", "align": "left", "baseline": "middle", "dy": 63, "fontSize": 20, "color": "#333"},
         "encoding": {"x": {"datum": 746}, "y": {"datum": 0}, "text": {"value": "Hoop strain/με"}}},
        {"mark": {"type": "text", "baseline": "middle", "dy": 126, "fontSize": 30, "color": "#000"},
         "encoding": {"x": {"datum": 700}, "y": {"datum": 0}, "text": {"value": "(d)"}}}
      ]
    },
    {
      "width": 618, "height": 473,
      "data": {"values": [{}]},
      "layer": [
        {"mark": {"type": "rule", "color": "#000", "strokeWidth": 1.3},
         "encoding": {
           "x": {"datum": -9000, "type": "quantitative", "scale": {"domain": [-9000, 9000], "nice": false},
                 "axis": {"values": [-9000,-7500,-6000,-4500,-3000,-1500,0,1500,3000,4500,6000,7500,9000], "labelExpr": "datum.value % 3000 == 0 ? '' + datum.value : ''", "tickSize": {"condition": {"test": "datum.value % 3000 != 0", "value": -3}, "value": -6}, "labelPadding": 18, "domain": false, "title": null}},
           "y": {"datum": 0, "type": "quantitative", "scale": {"domain": [0, 2000], "nice": false},
                 "axis": {"values": [0,250,500,750,1000,1250,1500,1750,2000], "labelExpr": "datum.value % 500 == 0 ? '' + datum.value : ''", "tickSize": {"condition": {"test": "datum.value % 500 != 0", "value": 3}, "value": 6}, "labelPadding": 3, "domain": false, "title": "N/kN", "titleX": -72, "titleY": 239, "titleAngle": -90, "titleAlign": "center", "titleBaseline": "middle"}},
           "y2": {"datum": 2000}}},
        {"mark": {"type": "rule", "color": "#000", "strokeWidth": 1.3},
         "encoding": {"x": {"datum": -9000}, "x2": {"datum": 9000}, "y": {"datum": 0}}},
        {"mark": {"type": "rule", "color": "#000", "strokeWidth": 1.5},
         "encoding": {"x": {"datum": 0}, "y": {"datum": 0}, "y2": {"datum": 2000}}},
        {"mark": {"type": "rule", "color": "#000", "strokeWidth": 3.5},
         "encoding": {"x": {"datum": -8373}, "x2": {"datum": 8373}, "y": {"datum": 0}}},
        {"mark": {"type": "point", "shape": "M-1,0L1,-0.5L1,0.5Z", "filled": true, "size": 289, "color": "#000", "opacity": 1},
         "encoding": {"x": {"datum": -8373}, "y": {"datum": 0}}},
        {"mark": {"type": "point", "shape": "M1,0L-1,-0.5L-1,0.5Z", "filled": true, "size": 289, "color": "#000", "opacity": 1},
         "encoding": {"x": {"datum": 8373}, "y": {"datum": 0}}},
        {"data": {"values": [
          {"s": "d=12mm", "b": "A", "x": 0, "y": 0},
          {"s": "d=12mm", "b": "A", "x": -56, "y": 292},
          {"s": "d=12mm", "b": "A", "x": -154, "y": 555},
          {"s": "d=12mm", "b": "A", "x": -252, "y": 907},
          {"s": "d=12mm", "b": "A", "x": -280, "y": 1047},
          {"s": "d=12mm", "b": "A", "x": -336, "y": 1153},
          {"s": "d=12mm", "b": "A", "x": -294, "y": 1180},
          {"s": "d=12mm", "b": "H", "x": 0, "y": 0},
          {"s": "d=12mm", "b": "H", "x": 196, "y": 292},
          {"s": "d=12mm", "b": "H", "x": 477, "y": 467},
          {"s": "d=12mm", "b": "H", "x": 729, "y": 696},
          {"s": "d=12mm", "b": "H", "x": 1000, "y": 800},
          {"s": "d=12mm", "b": "H", "x": 1206, "y": 836},
          {"s": "d=12mm", "b": "H", "x": 1000, "y": 980},
          {"s": "d=12mm", "b": "H", "x": 1108, "y": 1047},
          {"s": "d=12mm", "b": "H", "x": 1206, "y": 1153},
          {"s": "d=12mm", "b": "H", "x": 1150, "y": 1180},
          {"s": "d=18mm", "b": "A", "x": 0, "y": 0},
          {"s": "d=18mm", "b": "A", "x": 56, "y": 380},
          {"s": "d=18mm", "b": "A", "x": 84, "y": 731},
          {"s": "d=18mm", "b": "A", "x": 84, "y": 872},
          {"s": "d=18mm", "b": "A", "x": 168, "y": 889},
          {"s": "d=18mm", "b": "A", "x": 126, "y": 898},
          {"s": "d=18mm", "b": "H", "x": 0, "y": 0},
          {"s": "d=18mm", "b": "H", "x": 84, "y": 204},
          {"s": "d=18mm", "b": "H", "x": 196, "y": 450},
          {"s": "d=18mm", "b": "H", "x": 407, "y": 555},
          {"s": "d=18mm", "b": "H", "x": 589, "y": 643},
          {"s": "d=18mm", "b": "H", "x": 757, "y": 801},
          {"s": "d=18mm", "b": "H", "x": 757, "y": 872},
          {"s": "d=18mm", "b": "H", "x": 1010, "y": 880},
          {"s": "d=18mm", "b": "H", "x": 897, "y": 924},
          {"s": "d=18mm", "b": "H", "x": 897, "y": 985}
         ]},
         "mark": {"type": "line", "strokeWidth": 2.5},
         "encoding": {
           "x": {"field": "x", "type": "quantitative"},
           "y": {"field": "y", "type": "quantitative"},
           "color": {"field": "s", "type": "nominal", "scale": {"domain": ["d=12mm", "d=18mm"], "range": ["#00ff00", "#ff00ff"]},
                     "legend": {"orient": "none", "legendX": 469, "legendY": -11, "symbolSize": 529, "labelOffset": 27, "rowPadding": 4, "labelFontSize": 23}},
           "strokeDash": {"field": "s", "type": "nominal", "scale": {"domain": ["d=12mm", "d=18mm"], "range": [[6, 4], [1, 0]]},
                     "legend": {"orient": "none", "legendX": 469, "legendY": -11, "symbolSize": 529, "labelOffset": 27, "rowPadding": 4, "labelFontSize": 23}},
           "detail": {"field": "b"},
           "order": {"value": null}}},
        {"data": {"values": [{"x": -3098, "y": 977, "x2": -505, "y2": 1179}, {"x": -3449, "y": 898, "x2": -505, "y2": 283}, {"x": 3281, "y": 669, "x2": 1290, "y2": 1149}, {"x": 3000, "y": 564, "x2": 266, "y2": 265}]},
         "mark": {"type": "rule", "color": "#222", "strokeWidth": 1.2},
         "encoding": {"x": {"field": "x", "type": "quantitative"}, "y": {"field": "y", "type": "quantitative"}, "x2": {"field": "x2"}, "y2": {"field": "y2"}}},
        {"mark": {"type": "point", "shape": "M0,-1L0.55,1L-0.55,1Z", "filled": true, "size": 121, "color": "#222", "opacity": 1, "angle": 61.8},
         "encoding": {"x": {"datum": -505}, "y": {"datum": 1179}}},
        {"mark": {"type": "point", "shape": "M0,-1L0.55,1L-0.55,1Z", "filled": true, "size": 121, "color": "#222", "opacity": 1, "angle": 145.1},
         "encoding": {"x": {"datum": -505}, "y": {"datum": 283}}},
        {"mark": {"type": "point", "shape": "M0,-1L0.55,1L-0.55,1Z", "filled": true, "size": 121, "color": "#222", "opacity": 1, "angle": -31.1},
         "encoding": {"x": {"datum": 1290}, "y": {"datum": 1149}}},
        {"mark": {"type": "point", "shape": "M0,-1L0.55,1L-0.55,1Z", "filled": true, "size": 121, "color": "#222", "opacity": 1, "angle": -126.9},
         "encoding": {"x": {"datum": 266}, "y": {"datum": 265}}},
        {"data": {"values": [{"x": -294, "y": 1184}, {"x": 1150, "y": 1184}]},
         "mark": {"type": "point", "shape": "M0,-1L0.235,-0.324L0.951,-0.309L0.38,0.124L0.588,0.809L0,0.4L-0.588,0.809L-0.38,0.124L-0.951,-0.309L-0.235,-0.324Z", "filled": true, "size": 200, "color": "#ff0000", "opacity": 1},
         "encoding": {"x": {"field": "x", "type": "quantitative"}, "y": {"field": "y", "type": "quantitative"}}},
        {"data": {"values": [{"t": "Strain at peak load", "x": -5902, "y": 956}, {"t": "Strain at peak load", "x": 5524, "y": 594}, {"t": "Compression", "x": -4332, "y": 84}, {"t": "Tension", "x": 5384, "y": 67}]},
         "mark": {"type": "text", "fontWeight": "bold", "fontSize": 21, "color": "#000", "baseline": "middle"},
         "encoding": {"x": {"field": "x", "type": "quantitative"}, "y": {"field": "y", "type": "quantitative"}, "text": {"field": "t"}}},
        {"mark": {"type": "text", "align": "right", "baseline": "middle", "dy": 69, "fontSize": 21, "color": "#333"},
         "encoding": {"x": {"datum": -842}, "y": {"datum": 0}, "text": {"value": "Axial strain/με"}}},
        {"mark": {"type": "text", "baseline": "middle", "dy": 69, "fontSize": 17, "color": "#bbb"},
         "encoding": {"x": {"datum": 0}, "y": {"datum": 0}, "text": {"value": "|"}}},
        {"mark": {"type": "text", "align": "left", "baseline": "middle", "dy": 69, "fontSize": 21, "color": "#333"},
         "encoding": {"x": {"datum": 813}, "y": {"datum": 0}, "text": {"value": "Hoop strain/με"}}},
        {"mark": {"type": "text", "baseline": "middle", "dy": 126, "fontSize": 30, "color": "#000"},
         "encoding": {"x": {"datum": 0}, "y": {"datum": 0}, "text": {"value": "(e)"}}}
      ]
    },
    {
      "width": 615, "height": 473,
      "data": {"values": [{}]},
      "layer": [
        {"mark": {"type": "rule", "color": "#000", "strokeWidth": 1.3},
         "encoding": {
           "x": {"datum": -9000, "type": "quantitative", "scale": {"domain": [-9000, 9000], "nice": false},
                 "axis": {"values": [-9000,-7500,-6000,-4500,-3000,-1500,0,1500,3000,4500,6000,7500,9000], "labelExpr": "datum.value % 3000 == 0 ? '' + datum.value : ''", "tickSize": {"condition": {"test": "datum.value % 3000 != 0", "value": -3}, "value": -6}, "labelPadding": 18, "domain": false, "title": null}},
           "y": {"datum": 0, "type": "quantitative", "scale": {"domain": [0, 2000], "nice": false},
                 "axis": {"values": [0,250,500,750,1000,1250,1500,1750,2000], "labelExpr": "datum.value % 500 == 0 ? '' + datum.value : ''", "tickSize": {"condition": {"test": "datum.value % 500 != 0", "value": 3}, "value": 6}, "labelPadding": 3, "domain": false, "title": "N/kN", "titleX": -73, "titleY": 239, "titleAngle": -90, "titleAlign": "center", "titleBaseline": "middle"}},
           "y2": {"datum": 2000}}},
        {"mark": {"type": "rule", "color": "#000", "strokeWidth": 1.3},
         "encoding": {"x": {"datum": -9000}, "x2": {"datum": 9000}, "y": {"datum": 0}}},
        {"mark": {"type": "rule", "color": "#000", "strokeWidth": 1.5},
         "encoding": {"x": {"datum": 0}, "y": {"datum": 0}, "y2": {"datum": 2000}}},
        {"mark": {"type": "rule", "color": "#000", "strokeWidth": 3.5},
         "encoding": {"x": {"datum": -8373}, "x2": {"datum": 8373}, "y": {"datum": 0}}},
        {"mark": {"type": "point", "shape": "M-1,0L1,-0.5L1,0.5Z", "filled": true, "size": 289, "color": "#000", "opacity": 1},
         "encoding": {"x": {"datum": -8373}, "y": {"datum": 0}}},
        {"mark": {"type": "point", "shape": "M1,0L-1,-0.5L-1,0.5Z", "filled": true, "size": 289, "color": "#000", "opacity": 1},
         "encoding": {"x": {"datum": 8373}, "y": {"datum": 0}}},
        {"data": {"values": [
          {"s": "L=490mm", "b": "A", "x": 0, "y": 0},
          {"s": "L=490mm", "b": "A", "x": -425, "y": 63},
          {"s": "L=490mm", "b": "A", "x": -708, "y": 116},
          {"s": "L=490mm", "b": "A", "x": -1274, "y": 222},
          {"s": "L=490mm", "b": "A", "x": -1769, "y": 292},
          {"s": "L=490mm", "b": "A", "x": -1910, "y": 328},
          {"s": "L=490mm", "b": "A", "x": -2123, "y": 521},
          {"s": "L=490mm", "b": "A", "x": -2335, "y": 697},
          {"s": "L=490mm", "b": "A", "x": -2476, "y": 909},
          {"s": "L=490mm", "b": "A", "x": -2547, "y": 1050},
          {"s": "L=490mm", "b": "A", "x": -2688, "y": 1085},
          {"s": "L=490mm", "b": "A", "x": -2830, "y": 1155},
          {"s": "L=490mm", "b": "A", "x": -2943, "y": 1252},
          {"s": "L=490mm", "b": "H", "x": 0, "y": 0},
          {"s": "L=490mm", "b": "H", "x": 283, "y": 134},
          {"s": "L=490mm", "b": "H", "x": 495, "y": 222},
          {"s": "L=490mm", "b": "H", "x": 594, "y": 380},
          {"s": "L=490mm", "b": "H", "x": 708, "y": 733},
          {"s": "L=490mm", "b": "H", "x": 778, "y": 909},
          {"s": "L=490mm", "b": "H", "x": 849, "y": 1085},
          {"s": "L=490mm", "b": "H", "x": 934, "y": 1190},
          {"s": "L=490mm", "b": "H", "x": 990, "y": 1243},
          {"s": "L=490mm", "b": "H", "x": 778, "y": 1278},
          {"s": "L=490mm", "b": "H", "x": 637, "y": 1366},
          {"s": "L=490mm", "b": "H", "x": 651, "y": 1446},
          {"s": "L=771mm", "b": "A", "x": 0, "y": 150},
          {"s": "L=771mm", "b": "A", "x": -28, "y": 556},
          {"s": "L=771mm", "b": "A", "x": -113, "y": 909},
          {"s": "L=771mm", "b": "A", "x": -212, "y": 1085},
          {"s": "L=771mm", "b": "A", "x": -283, "y": 1226},
          {"s": "L=771mm", "b": "A", "x": -354, "y": 1296},
          {"s": "L=771mm", "b": "A", "x": -283, "y": 1366},
          {"s": "L=771mm", "b": "H", "x": 28, "y": 150},
          {"s": "L=771mm", "b": "H", "x": 141, "y": 556},
          {"s": "L=771mm", "b": "H", "x": 425, "y": 733},
          {"s": "L=771mm", "b": "H", "x": 778, "y": 815},
          {"s": "L=771mm", "b": "H", "x": 990, "y": 909},
          {"s": "L=771mm", "b": "H", "x": 1344, "y": 1014},
          {"s": "L=771mm", "b": "H", "x": 1486, "y": 1058},
          {"s": "L=771mm", "b": "H", "x": 1769, "y": 1155},
          {"s": "L=771mm", "b": "H", "x": 2052, "y": 1278},
          {"s": "L=771mm", "b": "H", "x": 2264, "y": 1340},
          {"s": "L=771mm", "b": "H", "x": 2476, "y": 1366},
          {"s": "L=1470mm", "b": "A", "x": 0, "y": 0},
          {"s": "L=1470mm", "b": "A", "x": -142, "y": 116},
          {"s": "L=1470mm", "b": "A", "x": -283, "y": 236},
          {"s": "L=1470mm", "b": "A", "x": -495, "y": 310},
          {"s": "L=1470mm", "b": "A", "x": -708, "y": 416},
          {"s": "L=1470mm", "b": "A", "x": -991, "y": 486},
          {"s": "L=1470mm", "b": "A", "x": -1274, "y": 592},
          {"s": "L=1470mm", "b": "A", "x": -1557, "y": 645},
          {"s": "L=1470mm", "b": "A", "x": -2123, "y": 733},
          {"s": "L=1470mm", "b": "A", "x": -2476, "y": 838},
          {"s": "L=1470mm", "b": "A", "x": -2618, "y": 944},
          {"s": "L=1470mm", "b": "A", "x": -2618, "y": 1085},
          {"s": "L=1470mm", "b": "A", "x": -2760, "y": 1138},
          {"s": "L=1470mm", "b": "A", "x": -3255, "y": 1208},
          {"s": "L=1470mm", "b": "A", "x": -3751, "y": 1261},
          {"s": "L=1470mm", "b": "H", "x": 0, "y": 0},
          {"s": "L=1470mm", "b": "H", "x": 71, "y": 116},
          {"s": "L=1470mm", "b": "H", "x": 141, "y": 380},
          {"s": "L=1470mm", "b": "H", "x": 212, "y": 645},
          {"s": "L=1470mm", "b": "H", "x": 425, "y": 909},
          {"s": "L=1470mm", "b": "H", "x": 637, "y": 1085},
          {"s": "L=1470mm", "b": "H", "x": 849, "y": 1173},
          {"s": "L=1470mm", "b": "H", "x": 778, "y": 1226},
          {"s": "L=1470mm", "b": "H", "x": 637, "y": 1278},
          {"s": "L=2454mm", "b": "A", "x": 0, "y": 0},
          {"s": "L=2454mm", "b": "A", "x": -283, "y": 204},
          {"s": "L=2454mm", "b": "A", "x": -311, "y": 380},
          {"s": "L=2454mm", "b": "A", "x": -255, "y": 733},
          {"s": "L=2454mm", "b": "A", "x": -283, "y": 997},
          {"s": "L=2454mm", "b": "A", "x": -283, "y": 1182},
          {"s": "L=2454mm", "b": "H", "x": 0, "y": 0},
          {"s": "L=2454mm", "b": "H", "x": 141, "y": 116},
          {"s": "L=2454mm", "b": "H", "x": 354, "y": 292},
          {"s": "L=2454mm", "b": "H", "x": 708, "y": 556},
          {"s": "L=2454mm", "b": "H", "x": 990, "y": 733},
          {"s": "L=2454mm", "b": "H", "x": 1245, "y": 847},
          {"s": "L=2454mm", "b": "H", "x": 1274, "y": 909},
          {"s": "L=2454mm", "b": "H", "x": 1132, "y": 1032},
          {"s": "L=2454mm", "b": "H", "x": 1203, "y": 1155},
          {"s": "L=2454mm", "b": "H", "x": 1160, "y": 1182},
          {"s": "L=3260mm", "b": "A", "x": 0, "y": 0},
          {"s": "L=3260mm", "b": "A", "x": -425, "y": 37},
          {"s": "L=3260mm", "b": "A", "x": -849, "y": 81},
          {"s": "L=3260mm", "b": "A", "x": -1274, "y": 151},
          {"s": "L=3260mm", "b": "A", "x": -1415, "y": 213},
          {"s": "L=3260mm", "b": "A", "x": -1274, "y": 240},
          {"s": "L=3260mm", "b": "A", "x": -849, "y": 254},
          {"s": "L=3260mm", "b": "A", "x": -283, "y": 261},
          {"s": "L=3260mm", "b": "A", "x": -212, "y": 266},
          {"s": "L=3260mm", "b": "H", "x": 0, "y": 0},
          {"s": "L=3260mm", "b": "H", "x": 283, "y": 99},
          {"s": "L=3260mm", "b": "H", "x": 495, "y": 187},
          {"s": "L=3260mm", "b": "H", "x": 537, "y": 231},
          {"s": "L=3260mm", "b": "H", "x": 425, "y": 257},
          {"s": "L=3260mm", "b": "H", "x": 141, "y": 266},
          {"s": "L=3260mm", "b": "H", "x": 0, "y": 240},
          {"s": "L=3260mm", "b": "H", "x": -113, "y": 160}
         ]},
         "mark": {"type": "line", "strokeWidth": 2.5},
         "encoding": {
           "x": {"field": "x", "type": "quantitative"},
           "y": {"field": "y", "type": "quantitative"},
           "color": {"field": "s", "type": "nominal", "scale": {"domain": ["L=490mm", "L=771mm", "L=1470mm", "L=2454mm", "L=3260mm"], "range": ["#000000", "#ff1a8c", "#0000ff", "#00ff00", "#ff0000"]},
                     "legend": {"orient": "none", "legendX": 469, "legendY": -11, "symbolSize": 552, "labelOffset": 27, "rowPadding": 4, "labelFontSize": 23}},
           "strokeDash": {"field": "s", "type": "nominal", "scale": {"domain": ["L=490mm", "L=771mm", "L=1470mm", "L=2454mm", "L=3260mm"], "range": [[14, 5, 3, 5, 3, 5], [14, 10], [14, 6, 3, 6, 3, 6], [6, 4], [1, 0]]},
                     "legend": {"orient": "none", "legendX": 469, "legendY": -11, "symbolSize": 552, "labelOffset": 27, "rowPadding": 4, "labelFontSize": 23}},
           "detail": {"field": "b"},
           "order": {"value": null}}},
        {"data": {"values": [{"x": -3042, "y": 988, "x2": -495, "y2": 1176}, {"x": -3396, "y": 909, "x2": -495, "y2": 283}, {"x": 3255, "y": 662, "x2": 1302, "y2": 1155}, {"x": 3042, "y": 569, "x2": 354, "y2": 257}]},
         "mark": {"type": "rule", "color": "#222", "strokeWidth": 1.2},
         "encoding": {"x": {"field": "x", "type": "quantitative"}, "y": {"field": "y", "type": "quantitative"}, "x2": {"field": "x2"}, "y2": {"field": "y2"}}},
        {"mark": {"type": "point", "shape": "M0,-1L0.55,1L-0.55,1Z", "filled": true, "size": 121, "color": "#222", "opacity": 1, "angle": 63},
         "encoding": {"x": {"datum": -495}, "y": {"datum": 1176}}},
        {"mark": {"type": "point", "shape": "M0,-1L0.55,1L-0.55,1Z", "filled": true, "size": 121, "color": "#222", "opacity": 1, "angle": 146.1},
         "encoding": {"x": {"datum": -495}, "y": {"datum": 283}}},
        {"mark": {"type": "point", "shape": "M0,-1L0.55,1L-0.55,1Z", "filled": true, "size": 121, "color": "#222", "opacity": 1, "angle": -29.8},
         "encoding": {"x": {"datum": 1302}, "y": {"datum": 1155}}},
        {"mark": {"type": "point", "shape": "M0,-1L0.55,1L-0.55,1Z", "filled": true, "size": 121, "color": "#222", "opacity": 1, "angle": -128.7},
         "encoding": {"x": {"datum": 354}, "y": {"datum": 257}}},
        {"data": {"values": [{"x": -283, "y": 1185}, {"x": 1160, "y": 1185}, {"x": -354, "y": 257}, {"x": 212, "y": 261}]},
         "mark": {"type": "point", "shape": "M0,-1L0.235,-0.324L0.951,-0.309L0.38,0.124L0.588,0.809L0,0.4L-0.588,0.809L-0.38,0.124L-0.951,-0.309L-0.235,-0.324Z", "filled": true, "size": 200, "color": "#ff0000", "opacity": 1},
         "encoding": {"x": {"field": "x", "type": "quantitative"}, "y": {"field": "y", "type": "quantitative"}}},
        {"data": {"values": [{"t": "Strain at peak load", "x": -5872, "y": 958}, {"t": "Strain at peak load", "x": 5519, "y": 595}, {"t": "Compression", "x": -4316, "y": 85}, {"t": "Tension", "x": 5405, "y": 67}]},
         "mark": {"type": "text", "fontWeight": "bold", "fontSize": 21, "color": "#000", "baseline": "middle"},
         "encoding": {"x": {"field": "x", "type": "quantitative"}, "y": {"field": "y", "type": "quantitative"}, "text": {"field": "t"}}},
        {"mark": {"type": "text", "align": "right", "baseline": "middle", "dy": 69, "fontSize": 21, "color": "#333"},
         "encoding": {"x": {"datum": -834}, "y": {"datum": 0}, "text": {"value": "Axial strain/με"}}},
        {"mark": {"type": "text", "baseline": "middle", "dy": 69, "fontSize": 17, "color": "#bbb"},
         "encoding": {"x": {"datum": 0}, "y": {"datum": 0}, "text": {"value": "|"}}},
        {"mark": {"type": "text", "align": "left", "baseline": "middle", "dy": 69, "fontSize": 21, "color": "#333"},
         "encoding": {"x": {"datum": 805}, "y": {"datum": 0}, "text": {"value": "Hoop strain/με"}}},
        {"mark": {"type": "text", "baseline": "middle", "dy": 120, "fontSize": 30, "color": "#000"},
         "encoding": {"x": {"datum": 1100}, "y": {"datum": 0}, "text": {"value": "(f)"}}}
      ]
    }
  ]
}
